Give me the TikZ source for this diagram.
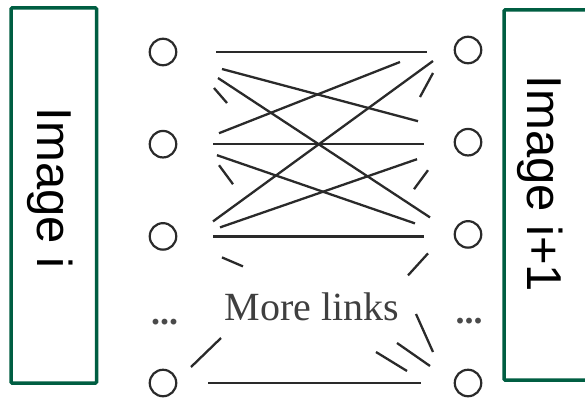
\documentclass[tikz,border=0pt]{standalone}
\usepackage{fontspec}
\setmainfont{Liberation Serif}
\newfontfamily\arialfont{Liberation Sans}
\usetikzlibrary{positioning,calc}
\definecolor{boxgreen}{RGB}{0,94,66}
\definecolor{linkgray}{RGB}{42,42,42}

\begin{document}
\begin{tikzpicture}[x=1pt,y=-1pt,
	unit node/.style={circle,draw=linkgray,line width=2.2pt,minimum size=26.5pt,inner sep=0pt},
	image box/.style={draw=boxgreen,line width=3.5pt,rounded corners=1pt,inner sep=0pt},
	image label/.style={rotate=-90,anchor=base,inner sep=0pt,font=\arialfont\fontsize{49}{58}\selectfont},
	dots node/.style={anchor=base,inner sep=0pt,text=linkgray!85,font=\bfseries\fontsize{36}{40}\selectfont},
	link/.style={draw=linkgray,line width=2.3pt}]

	\useasboundingbox (0,0) rectangle (585,401);
	\clip (0,0) rectangle (585,401);

	\node[image box,minimum width=85.5pt,minimum height=375pt](imgA) at (53.75,195.5){};
		\node[image label] at (37,188){Image i};
	\node[image box,minimum width=96pt,minimum height=370pt](imgB) at (552,195){};
		\node[image label] at (527,184){Image i+1};

	\node[unit node](l1) at (163,52){};
	\node[unit node](l2)[below = 63.5pt of l1]{};
	\node[unit node](l3)[below = 63.5pt of l2]{};
	\node[unit node](l4) at (163,383){};
		\node[dots node] at (164.5,324){...};
	\node[unit node](r1) at (468,50){};
	\node[unit node](r2)[below = 63.5pt of r1]{};
	\node[unit node](r3)[below = 63.5pt of r2]{};
	\node[unit node](r4) at (468,383){};
		\node[dots node] at (469,323){...};

	\node[anchor=base,inner sep=0pt,text=linkgray!90,font=\fontsize{40}{44}\selectfont](more) at (312,320){More links};

	% links between the two images
	\draw[link] ($(l1)+(53,0)$) -- ($(r1)+(-41,2)$);
	\draw[link] ($(l1)+(59,17)$) -- ($(r2)+(-50,-21)$);
	\draw[link] ($(l1)+(55,26)$) -- ($(r3)+(-38,-17)$);
	\draw[link] ($(l1)+(51,36)$) -- ($(l1)+(64,51)$);
	\draw[link] ($(l2)+(56,-11)$) -- ($(r1)+(-68,12)$);
	\draw[link] ($(l3)+(50,-15)$) -- ($(r1)+(-35,11)$);
	\draw[link] ($(r1)+(-48,47)$) -- ($(r1)+(-35,23)$);
	\draw[link] ($(l2)+(50,0)$) -- ($(r2)+(-44,2)$);
	\draw[link] ($(l2)+(54,11)$) -- ($(r3)+(-53,-11)$);
	\draw[link] ($(l2)+(56,21)$) -- ($(l2)+(70,40)$);
	\draw[link] ($(l3)+(57,-9)$) -- ($(r2)+(-51,17)$);
	\draw[link] ($(r2)+(-54,47)$) -- ($(r2)+(-40,28)$);
	\draw[link] ($(l3)+(50,0)$) -- ($(r3)+(-44,2)$);
	\draw[link] ($(l3)+(59,21)$) -- ($(l3)+(80,30)$);
	\draw[link] ($(r3)+(-60,41)$) -- ($(r3)+(-40,19)$);

	% cut links near the text
	\draw[link] ($(r4)+(-52,-69)$) -- ($(r4)+(-35,-31)$);
	\draw[link] ($(r4)+(-71,-40)$) -- ($(r4)+(-38,-17)$);
	\draw[link] ($(r4)+(-92,-31)$) -- ($(r4)+(-61,-12)$);
	\draw[link] ($(l4)+(58,-45)$) -- ($(l4)+(28,-16)$);
	\draw[link] ($(l4)+(45,0)$) -- ($(r4)+(-47,0)$);
\end{tikzpicture}
\end{document}
